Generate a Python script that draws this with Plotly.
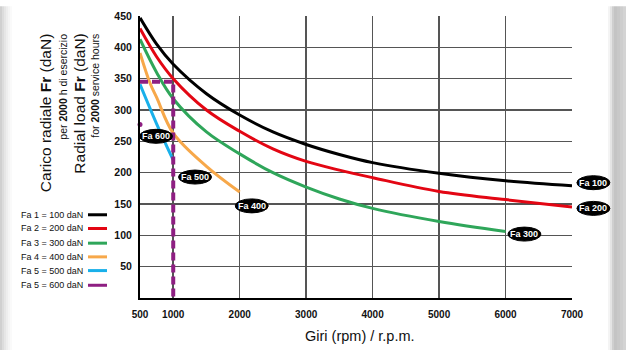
import plotly.graph_objects as go

# ---------------- data ----------------
rpm_fa100 = [500, 750, 1000, 1500, 2000, 2500, 3000, 3500, 4000, 5000, 6000, 7000]
load_fa100 = [447, 405, 373, 326, 292, 265, 245, 229, 216, 199, 187, 179]

rpm_fa200 = [500, 750, 1000, 1500, 2000, 2500, 3000, 3500, 4000, 5000, 6000, 7000]
load_fa200 = [430, 385, 350, 300, 266, 238, 218, 204, 192, 170, 157, 145]

rpm_fa300 = [500, 750, 1000, 1500, 2000, 2500, 3000, 3500, 4000, 5000, 6000]
load_fa300 = [413, 360, 318, 265, 230, 200, 177, 158, 143, 122, 106]

rpm_fa400 = [500, 650, 750, 1000, 1500, 2000]
load_fa400 = [391, 343, 320, 263, 210, 169]

rpm_fa500 = [500, 750, 1000]
load_fa500 = [341, 278, 220]

rpm_fa600 = [500, 1000, 1000]
load_fa600 = [345, 345, 0]
fa600_dot_rpm = [500]
fa600_dot_load = [277]

x_ticks = [500, 1000, 2000, 3000, 4000, 5000, 6000, 7000]
y_ticks = [50, 100, 150, 200, 250, 300, 350, 400, 450]

legend_labels = ["Fa 1 = 100 daN", "Fa 2 = 200 daN", "Fa 3 = 300 daN",
                 "Fa 4 = 400 daN", "Fa 5 = 500 daN", "Fa 5 = 600 daN"]

tag_texts = ["Fa 100", "Fa 200", "Fa 300", "Fa 400", "Fa 500", "Fa 600"]
tag_rpm = [7322, 7322, 6284, 2181, 1328, 741]
tag_load = [184, 143, 102, 147, 193, 258]

# ---------------- style ----------------
colors = ["#000000", "#e30613", "#2fa65a", "#f7a84a", "#19b0ea", "#8e1f82"]
FONT = "Liberation Sans, Arial, sans-serif"
W, H = 626, 351
ML, MR, MT, MB = 140, 54, 10, 53
PW, PH = W - ML - MR, H - MT - MB
XR = [500, 7000]
YR = [0, 450]


def px2px(px):
    return (px - ML) / PW


def py2py(py):
    return (H - MB - py) / PH


fig = go.Figure()
series = [(rpm_fa100, load_fa100), (rpm_fa200, load_fa200), (rpm_fa300, load_fa300),
          (rpm_fa400, load_fa400), (rpm_fa500, load_fa500)]
for (xs, ys), c in zip(series, colors):
    fig.add_trace(go.Scatter(x=xs, y=ys, mode="lines", line=dict(color=c, width=3, shape="spline"),
                             showlegend=False, hoverinfo="skip", cliponaxis=False))

fig.add_trace(go.Scatter(x=rpm_fa600, y=load_fa600, mode="lines",
                         line=dict(color=colors[5], width=4, dash="8px,4px"),
                         showlegend=False, hoverinfo="skip", cliponaxis=False))
fig.add_trace(go.Scatter(x=fa600_dot_rpm, y=fa600_dot_load, mode="markers",
                         marker=dict(color=colors[5], size=5), showlegend=False,
                         hoverinfo="skip", cliponaxis=False))

shapes = []
annotations = []

# background shadows of the card
for i, col in enumerate(["#d0d0d0", "#dcdcdc", "#e6e6e6", "#eeeeee", "#f5f5f5", "#fafafa"]):
    shapes.append(dict(type="rect", xref="paper", yref="paper", layer="below",
                       x0=px2px(2 * i), x1=px2px(2 * i + 2), y0=py2py(H), y1=py2py(0),
                       line=dict(width=0), fillcolor=col))
for i, col in enumerate(["#f4f4f4", "#e4e4e4", "#cfcfcf", "#c4c4c4", "#c8c8c8", "#cecece", "#d4d4d4"]):
    x0 = 608 + 2 * i if i < 3 else 614 + 3 * (i - 3)
    x1 = x0 + (2 if i < 3 else 3)
    shapes.append(dict(type="rect", xref="paper", yref="paper", layer="below",
                       x0=px2px(x0), x1=px2px(min(x1, W)), y0=py2py(H), y1=py2py(0),
                       line=dict(width=0), fillcolor=col))

# curve tags (black ellipses)
for t, n, v in zip(tag_texts, tag_rpm, tag_load):
    xf = (n - XR[0]) / (XR[1] - XR[0])
    shapes.append(dict(type="circle", xref="x domain", yref="y", xsizemode="pixel", ysizemode="pixel",
                       xanchor=xf, yanchor=v, x0=-16.5, x1=16.5, y0=-7, y1=7,
                       fillcolor="black", line=dict(color="black", width=1)))
    annotations.append(dict(x=xf, y=v, xref="x domain", yref="y", text="<b>%s</b>" % t,
                            showarrow=False, font=dict(family=FONT, size=9, color="white"),
                            xanchor="center", yanchor="middle"))

# manual legend (text left, line sample right)
leg_y = [213, 227, 242, 256, 270, 285]
for lab, c, yy in zip(legend_labels, colors, leg_y):
    annotations.append(dict(x=px2px(85), y=py2py(yy), xref="paper", yref="paper", text=lab,
                            showarrow=False, xanchor="right", yanchor="middle",
                            font=dict(family=FONT, size=9, color="#111111")))
    shapes.append(dict(type="line", xref="paper", yref="paper", x0=px2px(88), x1=px2px(107),
                       y0=py2py(yy), y1=py2py(yy), line=dict(color=c, width=3)))

# y-axis title block
ytitle = [("Carico radiale <b>Fr</b> (daN)", 15.5, 45),
          ("per <b>2000</b> h di esercizio", 10.5, 63),
          ("Radial load <b>Fr</b> (daN)", 15.5, 80),
          ("for <b>2000</b> service hours", 10.5, 95)]
for txt, fs, xp in ytitle:
    annotations.append(dict(x=px2px(xp), y=py2py(26), xref="paper", yref="paper", text=txt,
                            textangle=-90, showarrow=False, xanchor="center", yanchor="top",
                            font=dict(family=FONT, size=fs, color="#111111")))

annotations.append(dict(x=px2px(360), y=py2py(337), xref="paper", yref="paper",
                        text="Giri (rpm) / r.p.m.", showarrow=False, xanchor="center",
                        yanchor="middle", font=dict(family=FONT, size=14.5, color="#111111")))

fig.update_layout(
    width=W, height=H, margin=dict(l=ML, r=MR, t=MT, b=MB),
    paper_bgcolor="white", plot_bgcolor="white",
    shapes=shapes, annotations=annotations, showlegend=False,
    xaxis=dict(range=XR, tickvals=x_ticks, ticktext=["<b>%d</b>" % v for v in x_ticks],
               showgrid=True, gridcolor="#555555", gridwidth=1.5, zeroline=False,
               showline=True, linecolor="black", linewidth=2, ticks="", ticklabelstandoff=6,
               tickfont=dict(family=FONT, size=10, color="#111111")),
    yaxis=dict(range=YR, tickvals=y_ticks, ticktext=["<b>%d</b>" % v for v in y_ticks],
               showgrid=True, gridcolor="#555555", gridwidth=1.5, zeroline=False,
               showline=True, linecolor="black", linewidth=2, ticks="", ticklabelstandoff=4,
               tickfont=dict(family=FONT, size=10.5, color="#111111")),
)

fig.write_html("out.html", config={"displayModeBar": False, "staticPlot": True},
               post_script="document.body.style.margin='0';document.body.style.overflow='hidden';")
